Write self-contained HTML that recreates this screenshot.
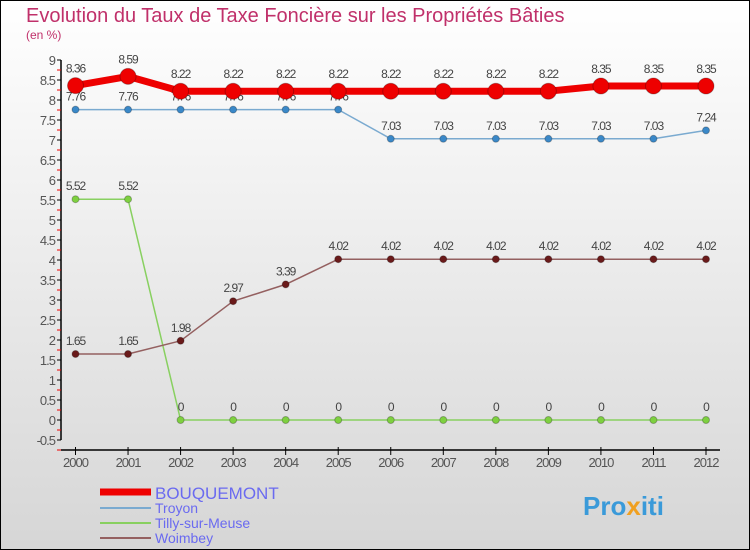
<!DOCTYPE html>
<html><head><meta charset="utf-8"><style>
body{margin:0;width:750px;height:550px;overflow:hidden;font-family:"Liberation Sans",sans-serif}
#wrap{position:absolute;left:0;top:0;width:748px;height:548px;border:1px solid #000;background:linear-gradient(#fff,#d6d6d6)}
</style></head><body>
<div id="wrap"></div>
<svg id="c" width="750" height="550" style="position:absolute;left:0;top:0">
<text x="26" y="22" font-size="20" fill="#c0306a">Evolution du Taux de Taxe Foncière sur les Propriétés Bâties</text>
<text x="26" y="39" font-size="12" fill="#c0306a">(en %)</text>
<g id="axes"></g><g id="series"></g>
<g>
<line x1="100" y1="492" x2="151" y2="492" stroke="#e00" stroke-width="7"/>
<text x="155" y="499" font-size="17" fill="#6a6af0">BOUQUEMONT</text>
<line x1="100" y1="508" x2="151" y2="508" stroke="#7aaad0" stroke-width="2"/>
<text x="155" y="513" font-size="14" fill="#6a6af0">Troyon</text>
<line x1="100" y1="523" x2="151" y2="523" stroke="#88d060" stroke-width="2"/>
<text x="155" y="528" font-size="14" fill="#6a6af0">Tilly-sur-Meuse</text>
<line x1="100" y1="538" x2="151" y2="538" stroke="#946060" stroke-width="2"/>
<text x="155" y="543" font-size="14" fill="#6a6af0">Woimbey</text>
</g>
<text x="583" y="515" font-size="26" font-weight="bold" fill="#3a9ad9">Pro<tspan fill="#f0a020">x</tspan>iti</text>
</svg>
<script>
const years=[2000,2001,2002,2003,2004,2005,2006,2007,2008,2009,2010,2011,2012];
const bouquemont=[8.36,8.59,8.22,8.22,8.22,8.22,8.22,8.22,8.22,8.22,8.35,8.35,8.35];
const troyon=[7.76,7.76,7.76,7.76,7.76,7.76,7.03,7.03,7.03,7.03,7.03,7.03,7.24];
const tilly=[5.52,5.52,0,0,0,0,0,0,0,0,0,0,0];
const woimbey=[1.65,1.65,1.98,2.97,3.39,4.02,4.02,4.02,4.02,4.02,4.02,4.02,4.02];
const yTicks=[-0.5,0,0.5,1,1.5,2,2.5,3,3.5,4,4.5,5,5.5,6,6.5,7,7.5,8,8.5,9];
const NS="http://www.w3.org/2000/svg";
const X=i=>75.5+i*(706-75.5)/(years.length-1);
const Y=v=>420-v*40;
function mk(t,a,p,txt){const e=document.createElementNS(NS,t);for(const k in a)e.setAttribute(k,a[k]);if(txt!==undefined)e.textContent=txt;p.appendChild(e);return e;}
const ax=document.getElementById('axes');
let yl=mk('line',{x1:61,y1:Y(9),x2:61,y2:Y(-0.5),stroke:'#000','stroke-width':1.5},ax);

yTicks.forEach(v=>{
 mk('line',{x1:57,y1:Y(v),x2:61,y2:Y(v),stroke:'#000'},ax);
 mk('line',{x1:57,y1:Y(v)+10,x2:61,y2:Y(v)+10,stroke:'#e00'},ax);
 const t=mk('text',{x:55,y:Y(v)+5,'font-size':13,fill:'#555','text-anchor':'end','letter-spacing':'-1'},ax,String(v));
 
});
let xl=mk('line',{x1:61,y1:450,x2:720,y2:450,stroke:'#000','stroke-width':1.5},ax);

years.forEach((y,i)=>{
 mk('line',{x1:X(i),y1:447,x2:X(i),y2:455,stroke:'#000'},ax);
 const t=mk('text',{x:X(i),y:467,'font-size':13,fill:'#555','text-anchor':'middle','letter-spacing':'-1'},ax,String(y));
 
});
const sg=document.getElementById('series');
function series(name,data,color,w,r,dot,labOff){
 const g=mk('g',{},sg);
 mk('polyline',{points:data.map((v,i)=>X(i)+','+Y(v)).join(' '),fill:'none',stroke:color,'stroke-width':w,'stroke-linejoin':'round'},g);
 data.forEach((v,i)=>{
  const c=mk('circle',{cx:X(i),cy:Y(v),r:r,fill:dot,stroke:'rgba(0,0,0,0.25)'},g);
  
  const t=mk('text',{x:X(i),y:Y(v)+labOff,'font-size':12,fill:'#444','text-anchor':'middle','letter-spacing':'-1'},g,String(v));
  
 });
}
series('tilly',tilly,'#88d060',1.5,3.5,'#7ed040',-9);
series('woimbey',woimbey,'#946060',1.5,3.5,'#6a1a1a',-9);
series('troyon',troyon,'#7aaad0',1.5,3.5,'#3a88c8',-9);
series('bouquemont',bouquemont,'#e00',7,8,'#e00',-13);
</script>
</body></html>
